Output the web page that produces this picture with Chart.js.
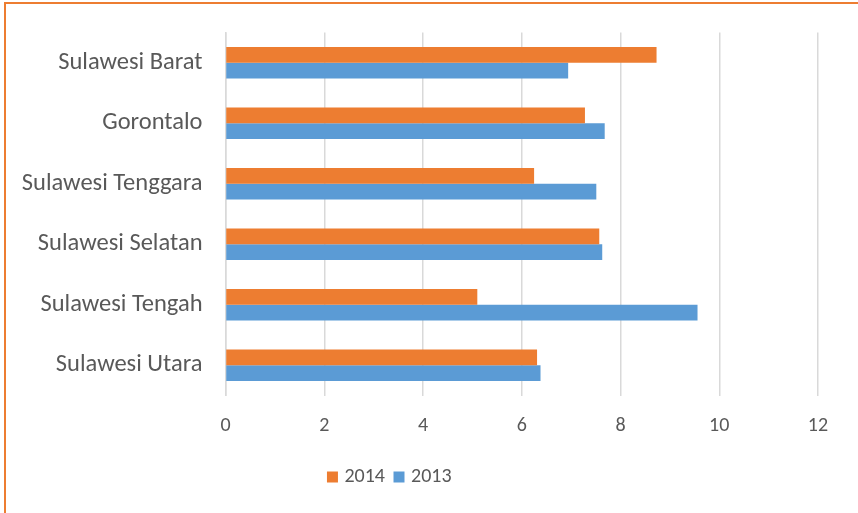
<!DOCTYPE html>
<html>
<head>
<meta charset="utf-8">
<script src="https://cdn.jsdelivr.net/npm/chart.js@4"></script>
<style>
    html, body { margin: 0; padding: 0; background: #ffffff; }
    #wrap { position: relative; width: 858px; height: 513px; overflow: hidden; }
    #chart { position: absolute; left: 0; top: 0; }
    .edge { position: absolute; background: #ED7D31; }
</style>
</head>
<body>
<div id="wrap">
    <canvas id="chart" width="858" height="513"></canvas>
    <div class="edge" style="left:4px; top:2px; width:854px; height:2px;"></div>
    <div class="edge" style="left:4px; top:2px; width:2px; height:511px;"></div>
</div>
<script>
const provinces = [
    "Sulawesi Barat", "Gorontalo", "Sulawesi Tenggara",
    "Sulawesi Selatan", "Sulawesi Tengah", "Sulawesi Utara"
];
const values2014 = [8.73, 7.28, 6.25, 7.57, 5.10, 6.31];
const values2013 = [6.94, 7.68, 7.51, 7.63, 9.56, 6.38];
const xTicks = [0, 2, 4, 6, 8, 10, 12];

const textColor = "#595959";
const fontFamily = "Carlito, Lato, sans-serif";

// nudge the legend left, like the original
const shiftLegend = {
    id: "shiftLegend",
    afterLayout(chart) {
        const lg = chart.legend;
        if (!lg) return;
        lg.left -= 18;
        lg.right -= 18;
    }
};

new Chart(document.getElementById("chart"), {
    type: "bar",
    data: {
        labels: provinces,
        datasets: [{
            label: "2014",
            data: values2014,
            backgroundColor: "#ED7D31",
            borderWidth: 0
        }, {
            label: "2013",
            data: values2013,
            backgroundColor: "#5B9BD5",
            borderWidth: 0
        }]
    },
    options: {
        indexAxis: "y",
        responsive: false,
        animation: false,
        layout: {
            padding: { top: 32.5, right: 40, bottom: 16, left: 0 }
        },
        datasets: {
            bar: { barPercentage: 1, categoryPercentage: 0.52 }
        },
        scales: {
            x: {
                min: 0,
                max: 12,
                afterBuildTicks(scale) {
                    scale.ticks = xTicks.map(v => ({ value: v }));
                },
                afterFit(scale) { scale.height = 59.5; },
                grid: {
                    color: "#d9d9d9",
                    lineWidth: 1.5,
                    drawTicks: false
                },
                border: { display: false },
                ticks: {
                    color: textColor,
                    padding: 18.5,
                    font: { family: fontFamily, size: 20 }
                }
            },
            y: {
                afterFit(scale) { scale.width = 225.5; },
                grid: { display: false },
                border: { color: "#d9d9d9", width: 1.5 },
                ticks: {
                    color: textColor,
                    padding: 15,
                    font: { family: fontFamily, size: 24.5 }
                }
            }
        },
        plugins: {
            legend: {
                position: "bottom",
                labels: {
                    color: textColor,
                    // small box + thick same-colour stroke, so the text sits closer
                    boxWidth: 4,
                    boxHeight: 4,
                    padding: 12,
                    font: { family: fontFamily, size: 20 },
                    generateLabels(chart) {
                        const items = Chart.defaults.plugins.legend.labels.generateLabels(chart);
                        items.forEach(it => {
                            it.lineWidth = 7;
                            it.strokeStyle = it.fillStyle;
                        });
                        return items;
                    }
                }
            },
            tooltip: { enabled: false }
        }
    },
    plugins: [shiftLegend]
});
</script>
</body>
</html>
